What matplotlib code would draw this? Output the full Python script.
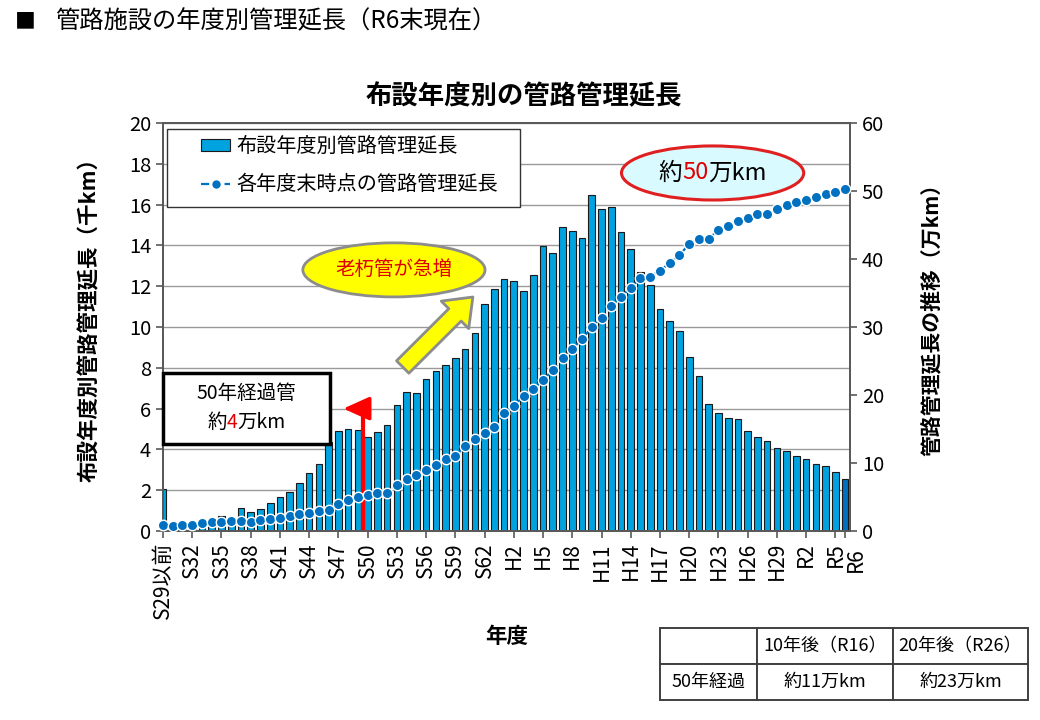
import numpy as np
import matplotlib
matplotlib.use("Agg")
import matplotlib.pyplot as plt
from matplotlib.patches import Ellipse, Rectangle, Patch
from matplotlib.lines import Line2D
from matplotlib.offsetbox import TextArea, HPacker, AnnotationBbox
from matplotlib.transforms import blended_transform_factory

plt.rcParams['font.family'] = ['Noto Sans CJK JP', 'DejaVu Sans']

# 年度 (S29以前 ... R6)
categories = (['S29以前'] + [f'S{n}' for n in range(30, 64)]
              + [f'H{n}' for n in range(1, 31)] + [f'R{n}' for n in range(1, 7)])

# 布設年度別管路管理延長 (千km)
laid_km = [2.05,
           0.30, 0.35, 0.40, 0.50, 0.55, 0.72, 0.65, 1.13, 0.92, 1.07,
           1.38, 1.69, 1.93, 2.33, 2.82, 3.30, 4.35, 4.88, 5.02, 4.94,
           4.63, 4.85, 5.20, 6.18, 6.81, 6.75, 7.45, 7.83, 8.14, 8.50,
           8.90, 9.69, 11.11, 11.86,
           12.35, 12.24, 11.75, 12.57, 13.95, 13.63, 14.92, 14.69, 14.38, 16.49,
           15.77, 15.87, 14.67, 13.82, 12.70, 12.04, 10.90, 10.28, 9.82, 8.53,
           7.58, 6.24, 5.77, 5.54, 5.49, 4.90, 4.59, 4.40, 4.07, 3.92,
           3.66, 3.51, 3.30, 3.17, 2.91, 2.55]

# 各年度末時点の管路管理延長 (万km)
total_km = [0.88,
            0.80, 0.90, 0.90, 1.18, 1.27, 1.32, 1.47, 1.42, 1.37, 1.62,
            1.81, 1.96, 2.20, 2.45, 2.67, 2.97, 3.15, 3.92, 4.56, 5.05,
            5.29, 5.64, 5.64, 6.76, 7.60, 8.19, 8.97, 9.70, 10.54, 11.03,
            12.50, 13.48, 14.46, 15.25,
            17.30, 18.43, 19.80, 20.88, 22.20, 23.68, 25.40, 26.80, 28.20, 30.00,
            31.37, 33.04, 34.46, 35.78, 37.20, 37.40, 38.28, 39.40, 40.54, 42.25,
            43.00, 43.00, 44.26, 44.90, 45.54, 46.10, 46.57, 46.67, 47.30, 47.94,
            48.33, 48.68, 49.10, 49.56, 49.85, 50.30]

table_rows = [['', '10年後（R16）', '20年後（R26）'],
              ['50年経過', '約11万km', '約23万km']]

BAR = '#00A3E0'
DARK = '#0070C0'
x = np.arange(len(categories))

fig = plt.figure(figsize=(10.4, 7.2), dpi=100)
ax = fig.add_axes([163 / 1040, 1 - 531 / 720, 687 / 1040, 408 / 720])
ax2 = ax.twinx()

colors = [BAR] * (len(x) - 1) + [DARK]
ax.bar(x, laid_km, width=0.68, color=colors, edgecolor='#1a1a1a', linewidth=0.8, zorder=2)
ax.set_xlim(0, 70.5)
ax.set_ylim(0, 20)
ax.set_yticks(np.arange(0, 21, 2))
ax.grid(axis='y', color='#9a9a9a', linewidth=1, zorder=0)
ax.set_axisbelow(True)

ax2.plot(x, total_km, linestyle='--', color=DARK, linewidth=1.6, marker='o',
         markersize=7.5, markerfacecolor=DARK, markeredgecolor='white',
         markeredgewidth=1, zorder=3, clip_on=False)
ax2.set_ylim(0, 60)
ax2.set_yticks(np.arange(0, 61, 10))

ticks = list(range(0, 70, 3)) + [70]
ax.set_xticks(ticks)
ax.set_xticklabels([categories[i] for i in ticks[:-1]] + [''], rotation=90, fontsize=15)
# R6 label sits a bit to the right of its tick in the original
ax.text(71.1, -0.04, categories[-1], transform=blended_transform_factory(ax.transData, ax.transAxes),
        rotation=90, ha='center', va='top', fontsize=15, clip_on=False)

for a in (ax, ax2):
    a.tick_params(axis='both', direction='out', length=5, width=1.2,
                  labelsize=14.5, color='#595959')
    for s in a.spines.values():
        s.set_color('#595959')
        s.set_linewidth(1.3)
ax.tick_params(axis='x', labelsize=15, pad=3)

ax.set_ylabel('布設年度別管路管理延長（千km）', fontsize=15.5, fontweight='bold')
ax.yaxis.set_label_coords(-0.092, 0.53)
ax2.set_ylabel('管路管理延長の推移（万km）', fontsize=15, fontweight='bold', rotation=90)
ax2.yaxis.set_label_coords(1.103, 0.53)
ax.set_xlabel('年度', fontsize=15.5, fontweight='bold')
ax.xaxis.set_label_coords(0.5, -0.232)

fig.text(15 / 1040, 1 - 21 / 720, '■', fontsize=15, va='center', ha='left')
fig.text(55 / 1040, 1 - 21 / 720, '管路施設の年度別管理延長（R6末現在）', fontsize=17.5,
         va='center', ha='left')
fig.text(524 / 1040, 1 - 97 / 720, '布設年度別の管路管理延長', fontsize=19,
         fontweight='bold', ha='center', va='center')

T = ax.transData

# legend (frame drawn separately to match the wide box)
ax2.add_patch(Rectangle((0.41, 15.88), 36.24, 3.82, transform=T, facecolor='white',
                        edgecolor='#333333', linewidth=1.0, zorder=9))
handles = [Patch(facecolor=BAR, edgecolor='#1a1a1a', linewidth=0.8),
           Line2D([], [], color=DARK, linestyle='--', linewidth=1.6, marker='o',
                  markersize=7, markeredgecolor='white')]
leg = ax2.legend(handles, ['布設年度別管路管理延長', '各年度末時点の管路管理延長'],
                 loc='upper left', bbox_to_anchor=(0.056, 0.968), fontsize=14.5,
                 frameon=False, handlelength=1.4, handleheight=0.5, handletextpad=0.35,
                 labelspacing=0.85, borderpad=0, borderaxespad=0)
leg.set_zorder(10)


def colored(parts, size, xy, weight='normal'):
    boxes = [TextArea(t, textprops=dict(color=c, fontsize=size, fontweight=weight))
             for t, c in parts]
    pk = HPacker(children=boxes, align='baseline', pad=0, sep=0)
    ab = AnnotationBbox(pk, xy, xycoords=T, frameon=False, box_alignment=(0.5, 0.5),
                        zorder=12)
    ax2.add_artist(ab)


# 50年経過管 box
ax2.add_patch(Rectangle((0, 4.26), 17.15, 3.49, transform=T, facecolor='white',
                        edgecolor='black', linewidth=2.5, zorder=11, clip_on=False))
ax2.text(8.6, 6.76, '50年経過管', transform=T, fontsize=14, ha='center', va='center',
         zorder=12)
colored([('約', 'black'), ('4', '#E00000'), ('万km', 'black')], 14, (8.6, 5.34))

# red arrow at S50
ax2.plot([20.5, 20.5], [0, 6.05], transform=T, color='#FF0000', linewidth=3, zorder=2.5,
         solid_capstyle='butt')
ax2.annotate('', xy=(18.5, 6.0), xytext=(20.55, 6.0), xycoords=T, textcoords=T,
             arrowprops=dict(arrowstyle='-|>,head_length=1.0,head_width=0.45',
                             color='#FF0000', lw=2.5, shrinkA=0, shrinkB=0,
                             mutation_scale=16), zorder=2.5)

# 老朽管が急増
ax2.add_patch(Ellipse((23.7, 12.8), 18.7, 2.65, transform=T, facecolor='#FFFF00',
                      edgecolor='#8c8c8c', linewidth=2, zorder=11))
ax2.text(23.7, 12.8, '老朽管が急増', transform=T, fontsize=14, color='#E00000',
         ha='center', va='center', zorder=12)
ax2.annotate('', xy=(31.8, 11.47), xytext=(24.6, 8.04), xycoords=T, textcoords=T,
             arrowprops=dict(arrowstyle='simple,head_length=1.3,head_width=2.0,tail_width=0.9',
                             facecolor='#FFFF00', edgecolor='#8c8c8c', lw=2,
                             mutation_scale=14, shrinkA=0, shrinkB=0), zorder=11)

# 約50万km
ax2.add_patch(Ellipse((56.4, 17.55), 18.7, 2.65, transform=T, facecolor='#D9FAFF',
                      edgecolor='#E02020', linewidth=2.2, zorder=11))
colored([('約', 'black'), ('50', '#E00000'), ('万km', 'black')], 17, (56.4, 17.55))

# table
axt = fig.add_axes([660 / 1040, 1 - 700 / 720, 368 / 1040, 72 / 720])
axt.axis('off')
tbl = axt.table(cellText=table_rows, bbox=[0, 0, 1, 1], cellLoc='center',
                colWidths=[97 / 368, 136 / 368, 135 / 368])
tbl.auto_set_font_size(False)
for (r, c), cell in tbl.get_celld().items():
    cell.set_edgecolor('#404040')
    cell.set_linewidth(1.4)
    cell.get_text().set_fontsize(13)

fig.savefig('out.png', dpi=100)
